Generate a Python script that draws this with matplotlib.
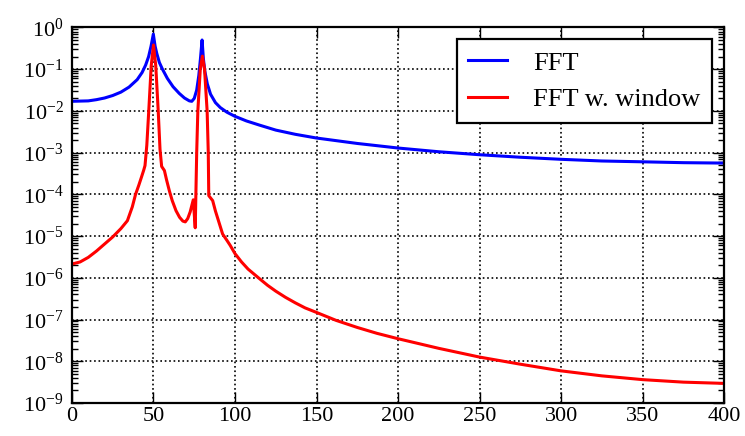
import matplotlib
matplotlib.use("Agg")
import matplotlib.pyplot as plt
from matplotlib.ticker import LogLocator

# values
fft_freq = [0, 5, 10, 15, 20, 25, 30, 35, 40, 43, 45.2, 47, 48.5, 49.9,
            51, 52, 53.6, 55.5, 58.5, 62, 65.8, 69, 72, 73.5, 75, 76.5, 77.8,
            78.8, 79.8, 80.6, 81.5, 83, 85, 88, 91, 95, 100, 107, 115, 125,
            137, 150, 175, 200, 225, 250, 275, 300, 325, 350, 375, 400]
fft_amp = [0.0170, 0.0172, 0.0174, 0.0186, 0.0204, 0.0234, 0.0282, 0.0372,
           0.0562, 0.0832, 0.126, 0.200, 0.355, 0.692,
           0.355, 0.240, 0.145, 0.100, 0.0603, 0.0380, 0.0263, 0.0204, 0.0174,
           0.0170, 0.0200, 0.0316, 0.0708, 0.178, 0.501, 0.178, 0.0891,
           0.0447, 0.0251, 0.0158, 0.0120, 0.00933, 0.00741, 0.00575, 0.00457,
           0.00347, 0.00275, 0.00224, 0.00166, 0.00129, 0.00105, 0.000891,
           0.000776, 0.000692, 0.000631, 0.000603, 0.000575, 0.000562]

win_freq = [0, 5, 10, 15, 20, 25, 30, 34, 37, 39, 41, 42.6, 44, 44.8,
            45.9, 47.1, 48.6, 50.0, 51.4, 52.9, 54.0, 55, 56.7, 58, 59.7,
            61.5, 63.8, 66, 68, 69.5, 71, 72.5, 74.4, 75.6, 76.5, 77.2, 78.7,
            80.0, 81.3, 82.9, 83.6, 83.9, 86.3, 88, 90, 92.4, 95, 97, 100,
            104, 108, 115, 120, 125, 131, 137, 143, 150, 162, 175, 187, 200,
            225, 250, 275, 300, 325, 350, 375, 400]
win_amp = [2.14e-6, 2.40e-6, 3.09e-6, 4.37e-6, 6.46e-6, 9.55e-6, 1.51e-5,
           2.34e-5, 5.01e-5, 1.0e-4, 1.66e-4, 2.57e-4, 3.80e-4, 4.90e-4,
           1.5e-3, 1e-2, 0.12, 0.38, 0.12, 1e-2, 1.2e-3, 4.68e-4, 3.72e-4,
           2.24e-4, 1.23e-4, 7.08e-5, 4.07e-5, 2.82e-5, 2.29e-5, 2.19e-5,
           2.63e-5, 3.80e-5, 7.41e-5, 1.58e-5, 1e-3, 1e-2, 0.1, 0.206, 0.1,
           1e-2, 1e-3, 9.33e-5, 7.08e-5, 3.98e-5, 2.24e-5, 1.12e-5, 7.94e-6,
           6.03e-6, 3.80e-6, 2.40e-6, 1.62e-6, 9.55e-7, 6.6e-7, 4.79e-7,
           3.4e-7, 2.51e-7, 1.9e-7, 1.48e-7, 9.55e-8, 6.46e-8, 4.68e-8,
           3.47e-8, 2.04e-8, 1.26e-8, 8.51e-9, 5.89e-9, 4.47e-9, 3.63e-9,
           3.16e-9, 2.95e-9]

legend_labels = ["FFT", "FFT w. window"]

plt.rcParams["font.family"] = ["Liberation Serif", "DejaVu Serif"]
plt.rcParams["mathtext.fontset"] = "stix"
plt.rcParams["font.size"] = 16

fig = plt.figure(figsize=(7.45, 4.36), dpi=100)
ax = fig.add_axes([0.0966, 0.0757, 0.8754, 0.8613])

ax.semilogy(fft_freq, fft_amp, color="b", lw=2.2, label=legend_labels[0])
ax.semilogy(win_freq, win_amp, color="r", lw=2.2, label=legend_labels[1])

ax.set_xlim(0, 400)
ax.set_ylim(1e-9, 1)
ax.yaxis.set_major_locator(LogLocator(base=10, numticks=15))
ax.yaxis.set_minor_locator(LogLocator(base=10, subs=range(2, 10), numticks=15))

ax.grid(True, which="major", color="k", linestyle=":", lw=1.2)
ax.tick_params(which="both", direction="in", top=True, right=True, width=1)
ax.tick_params(which="major", length=8)
ax.tick_params(which="minor", length=4)
ax.tick_params(axis="x", pad=3)
ax.tick_params(axis="y", pad=6)
for s in ax.spines.values():
    s.set_linewidth(1.6)

leg = ax.legend(loc="upper right", fancybox=False, framealpha=1,
                edgecolor="k", borderaxespad=0.45, handlelength=1.45,
                handletextpad=1.0, borderpad=0.45, fontsize=19)
leg.get_frame().set_linewidth(1.6)

fig.savefig("out.png", dpi=100)
